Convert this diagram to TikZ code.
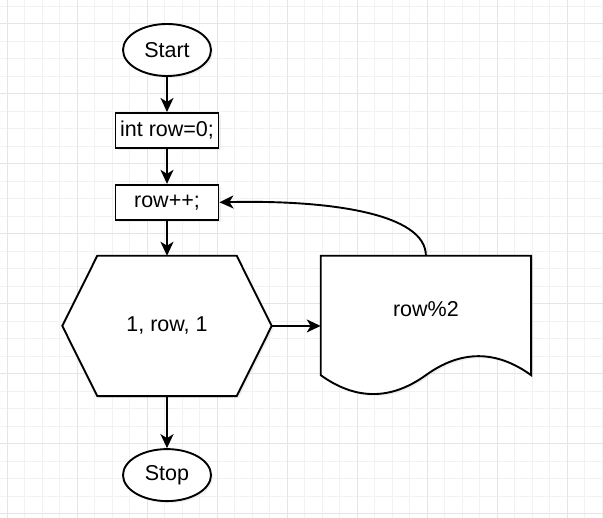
\documentclass[tikz,border=0pt]{standalone}
\usepackage{fontspec}
\setmainfont{Liberation Sans}
\usetikzlibrary{shapes.geometric,arrows.meta,positioning,shadows}

\begin{document}
\begin{tikzpicture}[
            x=1pt, y=-1pt,
            font=\fontsize{21.5}{24}\selectfont,
            minor/.style={draw=black!5, line width=1pt},
            major/.style={draw=black!10, line width=1pt},
            outline/.style={draw, line width=1.9pt, fill=white, drop shadow={opacity=0.12, shadow xshift=2pt, shadow yshift=-2pt}},
            term/.style={ellipse, outline, minimum width=88pt, minimum height=52pt, inner sep=0pt},
            proc/.style={rectangle, outline, minimum width=103pt, minimum height=35pt, inner sep=0pt},
            hexbox/.style={rectangle, minimum width=209pt, minimum height=140pt, inner sep=0pt},
            docbox/.style={rectangle, minimum width=210pt, minimum height=140pt, inner sep=0pt},
            arrow/.style={-{Stealth[length=14pt, width=13pt, inset=4pt]}, line width=1.9pt}
        ]
            \useasboundingbox[fill=white] (0,0) rectangle (603,518);
            % grid
            \foreach \x in {7.3,24.8,...,603} \draw[minor] (\x,0) -- (\x,518);
            \foreach \y in {6.5,24,...,518} \draw[minor] (0,\y) -- (603,\y);
            \foreach \x in {7.3,77.3,...,603} \draw[major] (\x,0) -- (\x,518);
            \foreach \y in {24,94,...,518} \draw[major] (0,\y) -- (603,\y);

            \node[term] (start) at (167,50) {Start};
            \node[proc, below=35pt of start] (init) {int row=0;};
            \node[proc, below=35pt of init] (inc) {row++;};
            \node[hexbox, below=35pt of inc] (loop) {};
            \node[docbox, right=49pt of loop] (cond) {};
            \node[term, below=52pt of loop] (stop) {Stop};

            % hexagon and document outlines
            \draw[outline] ([xshift=35pt]loop.north west) -- ([xshift=-35pt]loop.north east) -- (loop.east)
                -- ([xshift=-35pt]loop.south east) -- ([xshift=35pt]loop.south west) -- (loop.west) -- cycle;
            \node (looptext) at (loop.center) {1, row, 1};
            \draw[outline] (cond.north west) -- (cond.north east) -- ([yshift=21pt]cond.south east)
                .. controls ([xshift=-35pt,yshift=46.3pt]cond.south east) and ([xshift=35pt,yshift=46.3pt]cond.south) .. ([yshift=21pt]cond.south)
                .. controls ([xshift=-35pt,yshift=-4.2pt]cond.south) and ([xshift=35pt,yshift=-4.2pt]cond.south west) .. ([yshift=21pt]cond.south west) -- cycle;
            \node (condtext) at ([yshift=17pt]cond.center) {row\%2};

            \draw[arrow] (start) -- (init);
            \draw[arrow] (init) -- (inc);
            \draw[arrow] (inc) -- (loop);
            \draw[arrow] (loop.east) -- (cond.west);
            \draw[arrow] (loop) -- (stop);
            \draw[arrow] (cond.north) .. controls ([yshift=42pt]cond.north) and ([xshift=111pt,yshift=2.5pt]inc.east) .. (inc.east);
        \end{tikzpicture}
\end{document}
